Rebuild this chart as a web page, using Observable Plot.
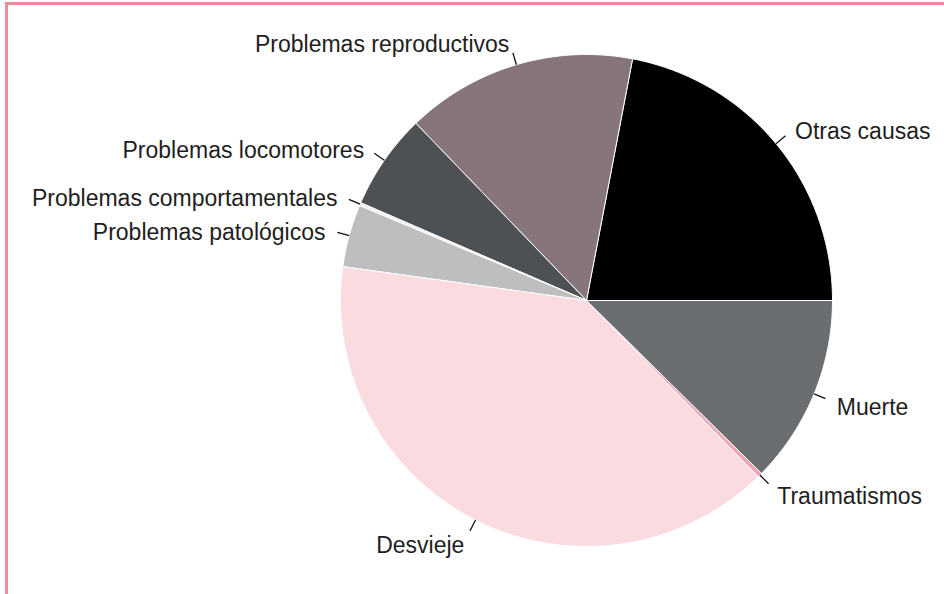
<!DOCTYPE html>
<html>
<head>
<meta charset="utf-8">
<script src="https://cdn.jsdelivr.net/npm/d3@7"></script>
<script src="https://cdn.jsdelivr.net/npm/@observablehq/plot@0.6"></script>
<style>
  html, body { margin: 0; padding: 0; background: #fff; }
  #wrap { position: relative; width: 944px; height: 594px; overflow: hidden; }
  #frame { position: absolute; top: 2px; left: 5px; right: 0; bottom: -4px;
           border-top: 3px solid #f18a9b; border-left: 3px solid #f18a9b; pointer-events: none; }
  #chart svg { display: block; }
</style>
</head>
<body>
<div id="wrap"><div id="chart"></div><div id="frame"></div></div>
<script>
// Causas de eliminación (%), en el orden en que se dibujan (antihorario desde las 3 en punto)
const causes = [
  "Otras causas",
  "Problemas reproductivos",
  "Problemas locomotores",
  "Problemas comportamentales",
  "Problemas patológicos",
  "Desvieje",
  "Traumatismos",
  "Muerte"
];
const shares = [22.0, 15.2, 6.3, 0.2, 4.1, 39.5, 0.3, 12.4];
const colors = ["#000000", "#86767b", "#4e5154", "#eeeeee", "#bebebe", "#f9dbe0", "#f0a3b4", "#6b6e70"];

const total = d3.sum(shares);
const slices = [];
let cum = 0;
causes.forEach((cause, i) => {
  const a0 = 2 * Math.PI * cum / total;
  cum += shares[i];
  const a1 = 2 * Math.PI * cum / total;
  slices.push({cause, a0, a1, mid: (a0 + a1) / 2});
});

// Outline of each slice: centre, then along the arc
const outline = [];
for (const s of slices) {
  outline.push({cause: s.cause, x: 0, y: 0});
  const n = Math.max(2, Math.ceil((s.a1 - s.a0) / 0.01));
  for (let k = 0; k <= n; k++) {
    const a = s.a0 + (s.a1 - s.a0) * k / n;
    outline.push({cause: s.cause, x: Math.cos(a), y: Math.sin(a)});
  }
  outline.push({cause: s.cause, x: 0, y: 0});
}

const labels = slices.map(s => ({
  cause: s.cause,
  x0: Math.cos(s.mid), y0: Math.sin(s.mid),
  x1: 1.05 * Math.cos(s.mid), y1: 1.05 * Math.sin(s.mid),
  tx: 1.1 * Math.cos(s.mid), ty: 1.1 * Math.sin(s.mid)
}));

const font = "'Liberation Sans', Arial, sans-serif";

const chart = Plot.plot({
  width: 944,
  height: 594,
  margin: 0,
  x: {domain: [-1, 1], range: [340, 832], axis: null},
  y: {domain: [-1, 1], range: [546, 54], axis: null},
  color: {domain: causes, range: colors, legend: false},
  style: {fontFamily: font, background: "#fff"},
  marks: [
    Plot.line(outline, {
      x: "x", y: "y", z: "cause", fill: "cause",
      stroke: "#ffffff", strokeWidth: 1, strokeLinejoin: "miter", curve: "linear"
    }),
    Plot.link(labels, {
      x1: "x0", y1: "y0", x2: "x1", y2: "y1",
      stroke: "#111", strokeWidth: 1.3
    }),
    Plot.text(labels.filter(d => d.tx >= 0), {
      x: "tx", y: "ty", text: "cause", textAnchor: "start",
      fontSize: 23, fill: "#1e1e1e", dy: 4
    }),
    Plot.text(labels.filter(d => d.tx < 0), {
      x: "tx", y: "ty", text: "cause", textAnchor: "end",
      fontSize: 23, fill: "#1e1e1e", dy: 4
    })
  ]
});

document.getElementById("chart").appendChild(chart);
</script>
</body>
</html>
